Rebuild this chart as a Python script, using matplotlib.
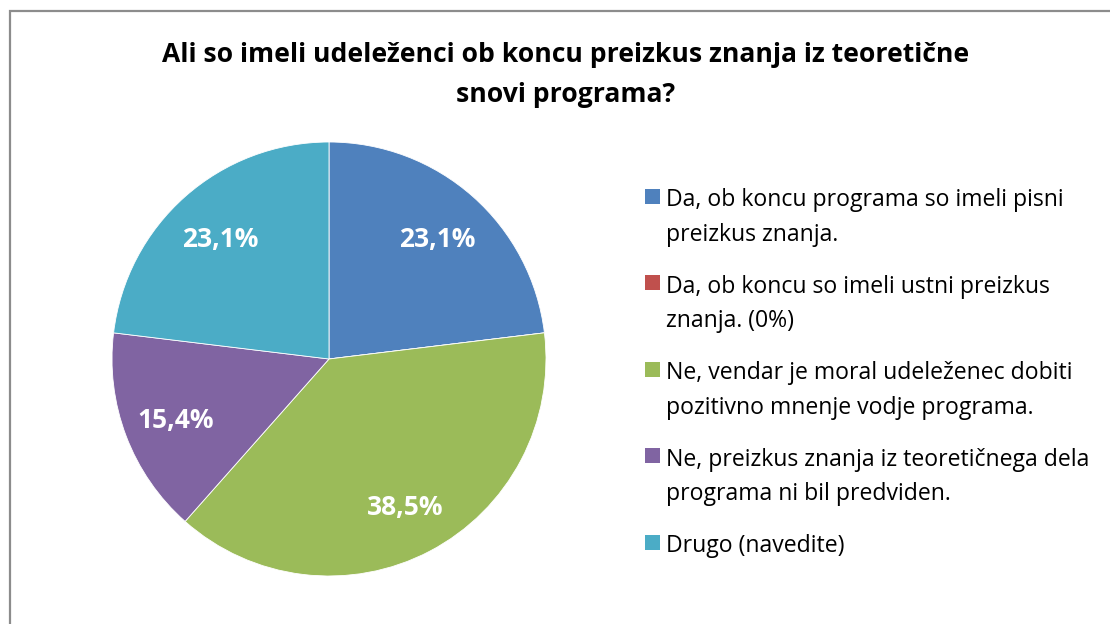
import matplotlib
matplotlib.use('Agg')
import matplotlib.pyplot as plt
from matplotlib.patches import Rectangle

plt.rcParams['font.family'] = ['Open Sans', 'DejaVu Sans']

### data ###
title = 'Ali so imeli udeleženci ob koncu preizkus znanja iz teoretične\nsnovi programa?'
labels = ['Da, ob koncu programa so imeli pisni\npreizkus znanja.',
          'Da, ob koncu so imeli ustni preizkus\nznanja. (0%)',
          'Ne, vendar je moral udeleženec dobiti\npozitivno mnenje vodje programa.',
          'Ne, preizkus znanja iz teoretičnega dela\nprograma ni bil predviden.',
          'Drugo (navedite)']
values = [23.1, 0, 38.5, 15.4, 23.1]
colors = ['#4F81BD', '#C0504D', '#9BBB59', '#8064A2', '#4BACC6']

W, H = 1110, 624
fig = plt.figure(figsize=(W / 100, H / 100), dpi=100)

# chart frame (cut off at right / bottom like the screenshot)
fig.patches.append(Rectangle((9.5 / W, -0.05), 1.2, (H - 10.5) / H + 0.05,
                             transform=fig.transFigure, fill=False,
                             edgecolor='#8c8c8c', linewidth=1.6))

fig.text(566 / W, 1 - 75 / H, title, ha='center', va='center',
         fontsize=19.1, fontweight='bold', linespacing=1.75, color='black')

# pie: centre (329, 359), radius 217 px
cx, cy, r = 329, 359, 217
ax = fig.add_axes([(cx - r) / W, (H - cy - r) / H, 2 * r / W, 2 * r / H])


def fmt(p):
    if p < 0.05:
        return ''
    return ('%.1f%%' % p).replace('.', ',')


wedges, texts, autotexts = ax.pie(values, colors=colors, startangle=90,
                                  counterclock=False, autopct=fmt,
                                  pctdistance=0.755,
                                  wedgeprops=dict(linewidth=0.6, edgecolor='white'))
for t in autotexts:
    t.set_color('white')
    t.set_fontsize(19)
    t.set_fontweight('bold')
    t.set_va('center_baseline')
ax.set_xlim(-1, 1)
ax.set_ylim(-1, 1)
ax.axis('off')

# legend drawn by hand so the square sits next to the first line
for i, (lab, col) in enumerate(zip(labels, colors)):
    yc = 196 + i * 86.6
    fig.patches.append(Rectangle((645 / W, 1 - (yc + 7.5) / H), 15 / W, 15 / H,
                                 transform=fig.transFigure, facecolor=col,
                                 edgecolor='none'))
    fig.text(666 / W, 1 - (yc - 8) / H, lab, ha='left', va='top',
             fontsize=16.6, linespacing=1.59, color='black')

fig.savefig('out.png', dpi=100)
